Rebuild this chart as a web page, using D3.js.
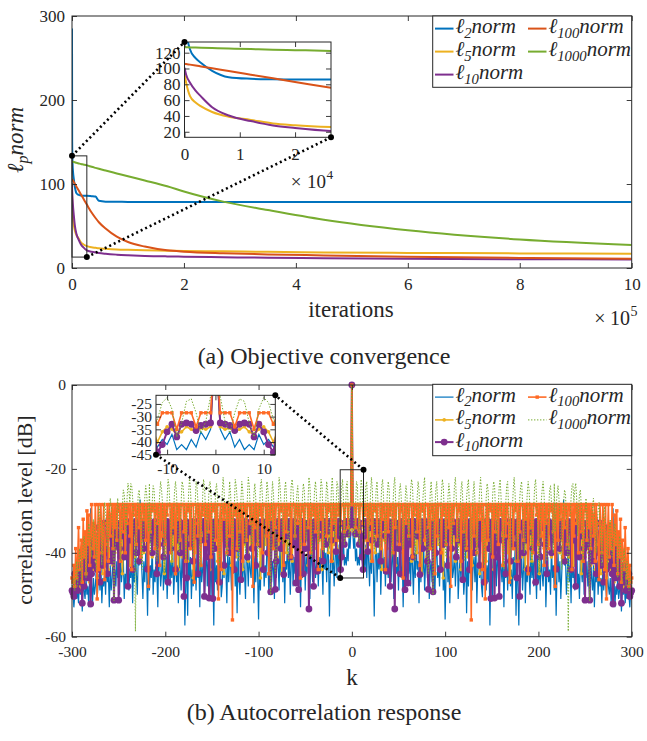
<!DOCTYPE html>
<html>
<head>
<meta charset="utf-8">
<script src="https://cdn.jsdelivr.net/npm/d3@7"></script>
<style>
  body { margin: 0; background: #fff; }
  svg { display: block; font-family: "Liberation Serif", "Times New Roman", Times, serif; }
</style>
</head>
<body>
<script>
// ---------- (a) objective convergence ----------
const iterations = [0, 300, 1000, 2000, 3000, 5000, 8000, 12000, 16000, 20000, 26500, 35000, 42000, 48000,
  60000, 80000, 100000, 130000, 170000, 200000, 270000, 350000, 450000, 600000, 800000, 1000000];
const convL2 = [285, 150, 124, 113, 107, 97, 89, 87, 86.3, 86, 86, 85.5, 85, 80, 79, 78.8, 78.7, 78.6,
  78.6, 78.6, 78.6, 78.6, 78.6, 78.6, 78.6, 78.6];
const convL5 = [93, 82, 65, 57, 52, 45, 39, 35, 30.5, 28.3, 26, 24.6, 24, 23.5, 22.9, 22.1, 21.6, 21,
  20.6, 20.3, 19.8, 19.2, 18.6, 18, 17.4, 17];
const convL10 = [101, 92, 82, 72, 64.5, 51, 40.5, 33.5, 28, 24.8, 21, 19.4, 18.5, 17.8, 16.9, 15.9, 15.2,
  14.4, 13.8, 13.5, 12.8, 12.2, 11.6, 11, 10.5, 10.2];
const convL100 = [106, 105.6, 104.9, 103.8, 102.6, 100.3, 96.8, 92.2, 87.6, 83, 75.5, 66, 59.5, 54.5, 47,
  37.3, 31, 25.5, 21, 19.4, 17.5, 16.2, 15, 13.5, 12, 11];
const convL1000 = [127, 126.9, 126.7, 126.4, 126.2, 125.8, 125.2, 124.5, 123.8, 123.2, 122.2, 120.5, 119.2,
  118.1, 116, 112.6, 109.2, 104.2, 97.3, 91, 79, 69, 57.5, 45, 34, 27.4];

// ---------- (b) autocorrelation, lags k = 0..300 (mirrored for k < 0) ----------
const acL2 = [0,
  -35,-39,-36,-42,-39,-43,-41,-43,-37,-41,-39,-42,
  -40,-44,-38,-46,-36,-42,-48,-39,-45,-37,-43,-55.2,-41,-38,-47,-40,-44,-36,-50,-42,-39,-45,-41,-48,
  -38,-43,-46,-40,-35,-47,-42,-39,-51,-44,-37,-45,-41,-49,-38,-43,-46,-40,-53,-42,-36,-47,-44,-39,
  -45,-41,-48,-38,-43,-50,-40,-46,-37,-44,-42,-52,-39,-47,-41,-45,-38,-49,-43,-40,-46,-36,-51,-44,
  -42,-47,-39,-45,-50,-41,-38,-46,-43,-48,-40,-44,-37,-49,-42,-55.9,-45,-39,-47,-41,-52,-43,-38,-46,
  -44,-40,-48,-42,-37,-51,-45,-41,-47,-39,-43,-50,-46,-38,-54.4,-42,-48,-40,-45,-36,-49,-43,-41,-47,
  -39,-52,-44,-40,-46,-42,-48,-50.6,-41,-45,-38,-49,-43,-47,-40,-57.3,-44,-41,-51,-39,-46,-42,-48,-37,
  -45,-50,-41,-44,-47,-39,-53,-42,-46,-40,-49,-43,-38,-48,-44,-51,-41,-46,-39,-55,-43,-47,-57.3,-42,
  -46,-40,-49,-44,-38,-52,-43,-47,-41,-45,-50,-39,-46,-42,-48,-37,-44,-51,-41,-47,-43,-49,-40,-45,
  -48,-42,-39,-53,-45,-41,-47,-44,-50,-38,-46,-43,-49,-41,-55,-44,-40,-47,-42,-51,-45,-39,-27.3,-43,
  -41,-50,-45,-38,-47,-43,-52,-40,-46,-44,-49,-42,-37,-48,-45,-51,-41,-44,-47,-39,-50,-43,-46,-42,
  -48,-44,-51,-40,-46,-49,-43,-53,-45,-47,-42,-50,-44,-48,-46,-52,-43,-49,-45,-47,-51,-44,-48,-50,
  -46,-52,-47,-29.4,-45,-53,-48,-50,-46,-51,-49,-47,-54,-48,-50,-46,-52,-49,-51,-47,-50,-53,-49,-51];
const acL5 = [0,
  -34,-35,-34.5,-36,-35,-34,-36,-37,-35,-34,-36,-40,
  -35,-37,-34,-39,-36,-34,-38,-35,-42,-34,-36,-35,-40,-34,-37,-35,-33.5,-38,-36,-44,-35,-34,-37,-36,
  -34,-39,-35,-36,-41,-34,-35,-38,-33.5,-36,-43,-35,-34,-37,-36,-40,-34,-35,-38,-46,-35,-34,-36,-39,
  -35,-37,-34,-42,-36,-35,-38,-34,-35,-40,-36,-34,-37,-35,-45,-34,-36,-38,-35,-41,-34,-37,-36,-35,
  -39,-34,-36,-43,-35,-37,-34,-38,-36,-35,-40,-34,-37,-46,-35,-36,-38,-34,-41,-35,-37,-36,-34,-39,
  -36,-35,-42,-34,-37,-35,-38,-36,-44,-34,-35,-39,-36,-37,-34,-41,-35,-38,-36,-34,-43,-37,-35,-40,
  -34,-36,-38,-35,-45,-34,-37,-36,-40,-35,-34,-42,-36,-38,-35,-34,-39,-37,-35,-44,-36,-34,-38,-35,
  -41,-36,-34,-37,-35,-43,-34,-38,-36,-35,-40,-34,-37,-46,-35,-36,-39,-34,-35,-42,-37,-36,-34,-38,
  -35,-41,-36,-34,-37,-44,-35,-36,-39,-34,-38,-35,-42,-36,-34,-37,-35,-40,-36,-34,-45,-35,-38,-36,
  -34,-39,-35,-37,-43,-34,-36,-38,-35,-41,-34,-37,-36,-35,-44,-38,-34,-36,-40,-35,-37,-34,-42,-36,
  -35,-38,-34,-36,-41,-37,-35,-39,-34,-43,-36,-35,-38,-37,-40,-34,-36,-45,-35,-38,-37,-41,-36,-39,
  -37,-40,-36,-43,-38,-37,-41,-39,-44,-38,-40,-36,-42,-39,-45,-38,-41,-40,-43,-39,-46,-41,-40,-44,
  -42,-45,-41,-43,-47,-42,-44,-46,-43,-45,-48,-44,-46,-45,-49,-47,-45,-48,-46,-49,-47,-48,-50,-49];
const acL10 = [0,
  -32.5,-33,-33.5,-35.5,-33,-32.5,-33,-38,-33,-36,-41,-44,
  -33,-32.5,-36,-33,-39.7,-33,-32.5,-34,-33,-37,-33,-32.5,-33,-35,-33,-38,-32.5,-33,-42,-33,-34,-32.5,-33,-36,
  -44.4,-33,-32.5,-35,-48,-33,-33,-37,-32.5,-53.4,-33,-34,-33,-39,-33,-45,-32.5,-33,-36,-33,-48.8,-33,-35,-47.2,
  -33,-32.5,-38,-33,-33,-41,-32.5,-34,-33,-36,-33,-33,-45.2,-32.5,-33,-39,-33,-35,-32.5,-33,-42,-48.7,-33,-34,
  -33,-37,-49.3,-33,-32.5,-40,-33,-33,-35,-33,-44,-32.5,-33,-38,-33,-36,-32.5,-33,-43,-33,-34,-33,-39,-32.5,
  -33,-35,-33,-41,-33,-32.5,-37,-33,-33,-34,-46.4,-33,-32.5,-39,-33,-36,-33,-44,-32.5,-33,-35,-33,-40,-33,
  -32.5,-38,-33,-33,-43,-33,-34,-32.5,-33,-47,-33,-36,-33,-32.5,-39,-33,-50.9,-33,-35,-32.5,-50.8,-33,-33,-41,
  -33,-50.4,-32.5,-34,-33,-37,-33,-33,-45,-32.5,-33,-36,-33,-42,-33,-32.5,-38,-33,-35,-33,-46,-32.5,-33,-50.4,
  -33,-34,-33,-40,-32.5,-33,-37,-33,-44,-33,-32.5,-35,-33,-39,-33,-33,-47,-32.5,-33,-36,-33,-41,-33,-34,
  -32.5,-33,-38,-33,-45,-33,-32.5,-35,-33,-40,-33,-33,-37,-32.5,-43.9,-33,-34,-33,-39,-32.5,-33,-36,-33,-42,
  -33,-33,-40,-32.5,-35,-33,-44,-33,-37,-32.5,-33,-48,-33,-34,-33,-41,-32.5,-33,-36,-33,-39,-51.3,-33,-35,
  -33,-38,-51.3,-33,-34,-42,-33,-36,-32.5,-45,-33,-37,-40,-33,-43,-35,-33,-47,-38,-34,-44,-36,-41,-39,
  -43,-37,-45,-52.2,-40,-38,-46,-42,-39,-44,-48,-41,-52,-45,-43,-47,-44,-49,-46,-48,-45,-50.4,-49.5,-49];
const acL100 = [0,
  -28.5,-28.5,-28.5,-34,-28.5,-28.5,-28.5,-35,-28.5,-28.5,-28.5,-33,
  -28.5,-31,-28.5,-28.5,-37,-28.5,-33,-28.5,-28.5,-42,-28.5,-28.5,-30,-28.5,-36,-28.5,-28.5,-28.5,-39,-28.5,-32,-28.5,-28.5,-44,
  -28.5,-28.5,-35,-28.5,-31,-28.5,-28.5,-40,-28.5,-28.5,-34,-28.5,-28.5,-28.5,-38,-28.5,-30,-28.5,-46,-28.5,-28.5,-33,-28.5,-28.5,
  -36,-28.5,-28.5,-28.5,-41,-28.5,-31,-28.5,-28.5,-35,-28.5,-28.5,-43,-28.5,-28.5,-30,-28.5,-37,-28.5,-28.5,-28.5,-34,-28.5,-39,
  -28.5,-28.5,-32,-28.5,-45,-28.5,-28.5,-36,-28.5,-28.5,-28.5,-40,-28.5,-31,-28.5,-28.5,-38,-28.5,-28.5,-34,-28.5,-48,-28.5,-28.5,
  -33,-28.5,-28.5,-28.5,-37,-28.5,-30,-28.5,-42,-28.5,-28.5,-35,-28.5,-28.5,-39,-28.5,-31,-28.5,-28.5,-56,-28.5,-28.5,-36,-28.5,
  -28.5,-40,-28.5,-28.5,-32,-28.5,-28.5,-44,-28.5,-34,-51,-28.5,-28.5,-37,-28.5,-28.5,-30,-28.5,-41,-28.5,-28.5,-35,-28.5,-28.5,
  -38,-28.5,-28.5,-31,-28.5,-43,-28.5,-28.5,-36,-28.5,-28.5,-33,-47,-28.5,-28.5,-28.5,-39,-28.5,-30,-28.5,-28.5,-42,-28.5,-35,
  -28.5,-28.5,-28.5,-37,-28.5,-32,-28.5,-28.5,-45,-28.5,-28.5,-34,-28.5,-40,-28.5,-28.5,-28.5,-31,-28.5,-38,-28.5,-28.5,-36,-28.5,
  -28.5,-43,-28.5,-33,-28.5,-28.5,-39,-28.5,-28.5,-30,-28.5,-35,-28.5,-48,-28.5,-28.5,-37,-28.5,-32,-28.5,-28.5,-41,-28.5,-34,
  -28.5,-28.5,-38,-28.5,-28.5,-31,-28.5,-44,-28.5,-36,-28.5,-28.5,-33,-28.5,-40,-28.5,-28.5,-35,-28.5,-42,-28.5,-30,-28.5,-37,
  -28.5,-34,-28.5,-39,-28.5,-31,-36,-28.5,-42,-28.5,-33,-38,-46.4,-28.5,-35,-40,-28.5,-32,-44,-28.5,-51,-37,-28.5,-41,
  -33,-39,-28.5,-36,-43,-31,-38,-30,-45,-35,-41,-32,-47,-37,-40,-44,-34,-42,-46,-39,-48,-43,-47,-46];
const acL1000 = [0,
  -22,-32,-36.5,-28.5,-23,-24,-32.5,-38,-27,-22.5,-24.5,-31,
  -36,-29,-24,-23,-30,-37,-33,-26,-22,-25,-34,-39,-31,-25,-23,-28,-35,-40,-30,-24,-22.5,-27,-33,-38,
  -32,-26,-23,-25,-31,-36,-41,-29,-24,-22,-28,-34,-37,-30,-25,-23.5,-27,-33,-39,-35,-28,-24,-26,-32,
  -37,-31,-25,-22.5,-24,-30,-36,-42,-33,-27,-23,-25,-31,-38,-34,-28,-24,-22,-29,-35,-40,-45,-32,-26,
  -23,-27,-50,-36,-30,-25,-23,-28,-34,-39,-31,-26,-22.5,-24,-30,-37,-41,-33,-27,-23.5,-26,-32,-38,-35,
  -29,-24,-22,-27,-33,-40,-36,-30,-25,-23,-28,-35,-42,-34,-27,-24,-22.5,-29,-36,-39,-31,-26,-23,-28,
  -34,-41,-37,-30,-25,-22,-26,-32,-38,-43,-33,-27,-23.5,-25,-31,-36,-40,-32,-26,-23,-24,-30,-37,-35,
  -29,-24,-22.5,-27,-33,-39,-44,-34,-28,-24,-23,-29,-35,-41,-36,-30,-25,-22,-26,-32,-38,-42,-33,-27,
  -24,-23,-28,-34,-40,-37,-31,-26,-23,-25,-30,-36,-43,-35,-29,-24,-22.5,-27,-33,-39,-45,-34,-28,-25,
  -23,-26,-31,-37,-42,-36,-30,-25,-24,-28,-34,-40,-23.5,-35,-29,-26,-24,-27,-32,-38,-44,-33,-28,-25,
  -26,-31,-37,-58.7,-39,-32,-27,-24,-23.5,-28,-25,-23.4,-27,-36,-30,-26,-25,-29,-35,-42,-38,-31,-27,-30,
  -36,-41,-51.5,-37,-33,-29,-27,-31,-36,-40,-34,-30,-28,-32,-38,-43,-35,-31,-29,-33,-39,-44,-37,-34,
  -32,-36,-41,-38,-35,-33,-37,-42,-46,-39,-36,-38,-43,-47,-41,-39,-44,-48,-42,-45,-49,-46,-47,-48];

const legendNames = ["2", "5", "10", "100", "1000"];
const convTicksX = [0, 2e5, 4e5, 6e5, 8e5, 1e6];
const convTicksY = [0, 100, 200, 300];
const zoomTicksX = [0, 1e4, 2e4];
const zoomTicksY = [20, 40, 60, 80, 100, 120];
const lagTicks = [-300, -200, -100, 0, 100, 200, 300];
const dbTicks = [-60, -40, -20, 0];
const zoomLagTicks = [-10, 0, 10];
const zoomDbTicks = [-45, -40, -35, -30, -25];

const FONT = '"Liberation Serif", "Times New Roman", Times, serif';
const INK = "#262626";

const svg = d3.select("body").append("svg").attr("width", 647).attr("height", 741)
  .attr("font-family", FONT);
const defs = svg.append("defs");

function frame(g, x, y, o) {
  const [xa, xb] = x.range(), [yb, ya] = y.range();
  const ax = [];
  ax.push(g.append("g").attr("transform", `translate(0,${yb})`)
    .call(d3.axisBottom(x).tickValues(o.xTicks).tickFormat(o.xFmt).tickSize(-5).tickPadding(o.xPad)));
  ax.push(g.append("g").attr("transform", `translate(0,${ya})`)
    .call(d3.axisTop(x).tickValues(o.xTicks).tickFormat("").tickSize(-5)));
  ax.push(g.append("g").attr("transform", `translate(${xa},0)`)
    .call(d3.axisLeft(y).tickValues(o.yTicks).tickFormat(o.yFmt).tickSize(-5).tickPadding(o.yPad)));
  ax.push(g.append("g").attr("transform", `translate(${xb},0)`)
    .call(d3.axisRight(y).tickValues(o.yTicks).tickFormat("").tickSize(-5)));
  ax.forEach(a => a.attr("font-family", FONT).attr("font-size", o.size));
  g.selectAll(".domain").remove();
  g.selectAll(".tick line").attr("stroke", INK).attr("stroke-width", 0.9);
  g.selectAll(".tick text").attr("fill", INK).style("font-family", FONT).style("font-size", o.size + "px");
  g.append("rect").attr("x", xa).attr("y", ya).attr("width", xb - xa).attr("height", yb - ya)
    .attr("fill", "none").attr("stroke", INK).attr("stroke-width", 1);
}

function clipFor(id, x, y) {
  const [xa, xb] = x.range(), [yb, ya] = y.range();
  defs.append("clipPath").attr("id", id).append("rect")
    .attr("x", xa).attr("y", ya).attr("width", xb - xa).attr("height", yb - ya);
  return `url(#${id})`;
}

function connector(g, p, q) {
  g.append("line").attr("x1", p[0]).attr("y1", p[1]).attr("x2", q[0]).attr("y2", q[1])
    .attr("stroke", "#000").attr("stroke-width", 2.6).attr("stroke-dasharray", "2 3");
  [p, q].forEach(c => g.append("circle").attr("cx", c[0]).attr("cy", c[1]).attr("r", 3).attr("fill", "#000"));
}

function normLabel(sel, sub, size) {
  sel.style("font-family", FONT).style("font-style", "italic").style("font-size", size + "px").attr("fill", INK);
  sel.append("tspan").text("\u2113");
  sel.append("tspan").attr("dy", size * 0.22).style("font-size", (size * 0.7) + "px").text(sub);
  sel.append("tspan").attr("dy", -size * 0.22).text("norm");
}

function drawMarker(g, type, color, r, cx, cy) {
  if (type === "square") {
    g.append("rect").attr("x", cx - r).attr("y", cy - r).attr("width", 2 * r).attr("height", 2 * r).attr("fill", color);
  } else {
    g.append("circle").attr("cx", cx).attr("cy", cy).attr("r", r).attr("fill", color);
  }
}

function legend(g, box, rows, items) {
  g.append("rect").attr("x", box[0]).attr("y", box[1]).attr("width", box[2] - box[0]).attr("height", box[3] - box[1])
    .attr("fill", "#fff").attr("stroke", INK).attr("stroke-width", 1);
  const cols = [435, 528];
  items.forEach((it, i) => {
    const col = i < 3 ? 0 : 1, row = i < 3 ? i : i - 3;
    const base = rows[row], ly = base - 4.4, lx = cols[col];
    g.append("line").attr("x1", lx).attr("x2", lx + 18.5).attr("y1", ly).attr("y2", ly)
      .attr("stroke", it.color).attr("stroke-width", it.width).attr("stroke-dasharray", it.dash || null);
    if (it.marker) drawMarker(g, it.marker, it.color, it.r, lx + 9.2, ly);
    normLabel(g.append("text").attr("x", lx + 20.5).attr("y", base), legendNames[i], 21);
  });
}

// ================= panel (a) =================
const topStyles = [
  { vals: convL2, color: "#0072BD" },
  { vals: convL5, color: "#EDB120" },
  { vals: convL10, color: "#7E2F8E" },
  { vals: convL100, color: "#D95319" },
  { vals: convL1000, color: "#77AC30" }
];

const xTop = d3.scaleLinear().domain([0, 1e6]).range([72, 631.7]);
const yTop = d3.scaleLinear().domain([0, 300]).range([268, 16]);
const gA = svg.append("g");

function drawConv(g, x, y, clip) {
  const line = d3.line().x((d, i) => x(iterations[i])).y(d => y(d)).curve(d3.curveMonotoneX);
  const lg = g.append("g").attr("clip-path", clip);
  topStyles.forEach(s => lg.append("path").attr("d", line(s.vals)).attr("fill", "none")
    .attr("stroke", s.color).attr("stroke-width", 2));
}

drawConv(gA, xTop, yTop, clipFor("clipA", xTop, yTop));
frame(gA, xTop, yTop, { xTicks: convTicksX, yTicks: convTicksY, xFmt: d => d / 1e5, yFmt: d => d,
  xPad: 10, yPad: 7, size: 20 });

// zoom box + inset
const xInA = d3.scaleLinear().domain([0, 26500]).range([184.5, 331]);
const yInA = d3.scaleLinear().domain([13, 133.5]).range([137.3, 42]);
gA.append("rect").attr("x", xTop(0)).attr("y", yTop(133.5)).attr("width", xTop(26500) - xTop(0))
  .attr("height", yTop(13) - yTop(133.5)).attr("fill", "none").attr("stroke", INK).attr("stroke-width", 1);
gA.append("rect").attr("x", 184.5).attr("y", 42).attr("width", 331 - 184.5).attr("height", 137.3 - 42).attr("fill", "#fff");
drawConv(gA, xInA, yInA, clipFor("clipAin", xInA, yInA));
frame(gA, xInA, yInA, { xTicks: zoomTicksX, yTicks: zoomTicksY, xFmt: d => d / 1e4, yFmt: d => d,
  xPad: 11, yPad: 4, size: 17 });
connector(gA, [xTop(0), yTop(133.5)], [184.5, 42]);
connector(gA, [xTop(26500), yTop(13)], [331, 137.3]);

// exponent labels
function expLabel(g, xr, y, base, size) {
  g.append("text").attr("x", xr - 31).attr("y", y).attr("text-anchor", "middle")
    .style("font-family", FONT).style("font-size", size + "px").attr("fill", INK).text("\u00d7");
  g.append("text").attr("x", xr - 1).attr("y", y).attr("text-anchor", "end")
    .style("font-family", FONT).style("font-size", size + "px").attr("fill", INK).text("10");
  g.append("text").attr("x", xr - 0.5).attr("y", y - 9).attr("text-anchor", "start")
    .style("font-family", FONT).style("font-size", (size * 0.7) + "px").attr("fill", INK).text(base);
}
expLabel(gA, 631, 325, "5", 20);
expLabel(gA, 327, 188, "4", 19);

gA.append("text").attr("x", 351).attr("y", 317).attr("text-anchor", "middle")
  .style("font-family", FONT).style("font-size", "23px").attr("fill", INK).text("iterations");
const yLabA = gA.append("text").attr("transform", "translate(23,140) rotate(-90)").attr("text-anchor", "middle");
normLabel(yLabA, "p", 23);

legend(gA, [432.7, 16, 631.7, 87.3], [33, 56, 79], topStyles.map(s => ({ color: s.color, width: 2 })));

svg.append("text").attr("x", 324).attr("y", 364).attr("text-anchor", "middle")
  .style("font-family", FONT).style("font-size", "24px").attr("fill", INK).text("(a) Objective convergence");

// ================= panel (b) =================
const mirror = v => v.slice(1).reverse().concat(v);
const lagAll = d3.range(-300, 301);
const botStyles = [
  { vals: mirror(acL2), color: "#0072BD", width: 1.2 },
  { vals: mirror(acL5), color: "#EDB120", width: 1.6, marker: "circle", r: 1.8 },
  { vals: mirror(acL10), color: "#7E2F8E", width: 2, marker: "circle", r: 3.4 },
  { vals: mirror(acL100), color: "#FF6A25", width: 1.6, marker: "square", r: 1.7 },
  { vals: mirror(acL1000), color: "#77AC30", width: 1, dash: "1.4 1.6" }
];

const xBot = d3.scaleLinear().domain([-300, 300]).range([72, 631.7]);
const yBot = d3.scaleLinear().domain([-60, 0]).range([636.7, 385]);
const gB = svg.append("g");

function drawAc(g, x, y, clip) {
  const line = d3.line().x((d, i) => x(lagAll[i])).y(d => y(d));
  const lg = g.append("g").attr("clip-path", clip);
  const [xa, xb] = x.range();
  botStyles.forEach(s => {
    lg.append("path").attr("d", line(s.vals)).attr("fill", "none").attr("stroke", s.color)
      .attr("stroke-width", s.width).attr("stroke-dasharray", s.dash || null);
    if (s.marker) {
      const mg = lg.append("g");
      s.vals.forEach((v, i) => {
        const cx = x(lagAll[i]);
        if (cx >= xa - 5 && cx <= xb + 5) drawMarker(mg, s.marker, s.color, s.r, cx, y(v));
      });
    }
  });
}

drawAc(gB, xBot, yBot, null);
frame(gB, xBot, yBot, { xTicks: lagTicks, yTicks: dbTicks, xFmt: d => String(d), yFmt: d => String(d),
  xPad: 9, yPad: 6, size: 20 });

const xInB = d3.scaleLinear().domain([-12.3, 12.4]).range([156, 275.3]);
const yInB = d3.scaleLinear().domain([-45, -21.6]).range([454.7, 395.3]);
gB.append("rect").attr("x", xBot(-12.5)).attr("y", yBot(-20.2)).attr("width", xBot(12.5) - xBot(-12.5))
  .attr("height", yBot(-46) - yBot(-20.2)).attr("fill", "none").attr("stroke", INK).attr("stroke-width", 1);
gB.append("rect").attr("x", 156).attr("y", 395.3).attr("width", 275.3 - 156).attr("height", 454.7 - 395.3).attr("fill", "#fff");
drawAc(gB, xInB, yInB, clipFor("clipBin", xInB, yInB));
frame(gB, xInB, yInB, { xTicks: zoomLagTicks, yTicks: zoomDbTicks, xFmt: d => String(d), yFmt: d => String(d),
  xPad: 8, yPad: 4, size: 15.5 });
connector(gB, [xBot(12.5), yBot(-20.2)], [275.3, 395.3]);
connector(gB, [xBot(-12.5), yBot(-46)], [156, 454.7]);

gB.append("text").attr("x", 352).attr("y", 685).attr("text-anchor", "middle")
  .style("font-family", FONT).style("font-size", "23px").attr("fill", INK).text("k");
gB.append("text").attr("transform", "translate(32,510) rotate(-90)").attr("text-anchor", "middle")
  .style("font-family", FONT).style("font-size", "22px").attr("fill", INK).text("correlation level [dB]");

legend(gB, [432.7, 384.3, 631.7, 455.7], [401.5, 424.3, 446.5], botStyles);

svg.append("text").attr("x", 324).attr("y", 720).attr("text-anchor", "middle")
  .style("font-family", FONT).style("font-size", "24px").attr("fill", INK).text("(b) Autocorrelation response");
</script>
</body>
</html>
